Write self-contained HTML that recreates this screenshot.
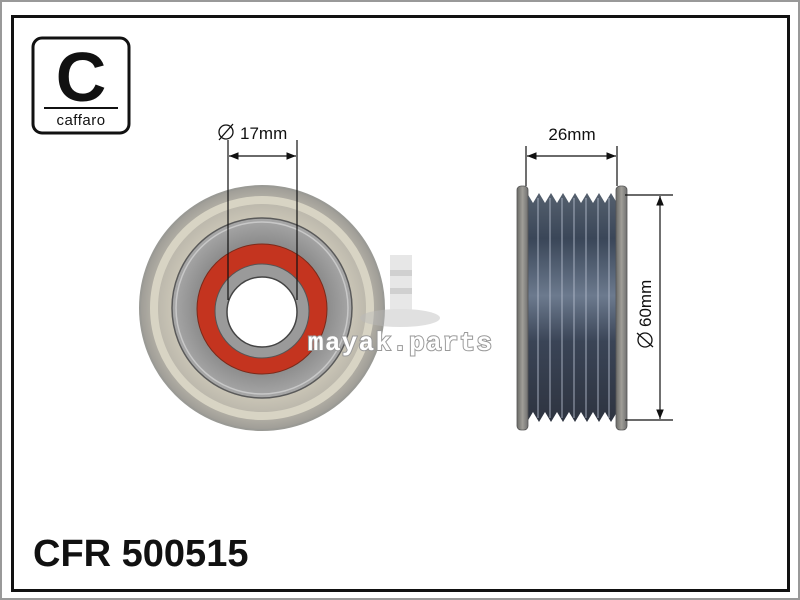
<!DOCTYPE html>
<html><head><meta charset="utf-8"><style>
html,body{margin:0;padding:0;background:#fff}
svg{display:block}
</style></head><body>
<svg width="800" height="600" viewBox="0 0 800 600" font-family="Liberation Sans, sans-serif">
<defs>
<radialGradient id="rim" cx="50%" cy="50%" r="50%">
<stop offset="70%" stop-color="#cdc8b8"/><stop offset="85%" stop-color="#bdb9ad"/><stop offset="100%" stop-color="#9e9c96"/>
</radialGradient>
<radialGradient id="disc" cx="50%" cy="50%" r="50%">
<stop offset="70%" stop-color="#8a8a8a"/><stop offset="100%" stop-color="#a8a8a8"/>
</radialGradient>
<linearGradient id="body" x1="0" y1="0" x2="0" y2="1">
<stop offset="0%" stop-color="#55606e"/><stop offset="20%" stop-color="#3a4658"/><stop offset="45%" stop-color="#6c7a8e"/><stop offset="65%" stop-color="#3a4456"/><stop offset="100%" stop-color="#2e3440"/>
</linearGradient>
<linearGradient id="fl" x1="0" y1="0" x2="1" y2="0">
<stop offset="0%" stop-color="#6a6a66"/><stop offset="50%" stop-color="#a09e98"/><stop offset="100%" stop-color="#707070"/>
</linearGradient>
<marker id="a" viewBox="0 0 10 10" refX="10" refY="5" markerWidth="8" markerHeight="8" orient="auto-start-reverse"><path d="M0,1 L10,5 L0,9 z" fill="#111"/></marker>
</defs>
<rect x="1" y="1" width="798" height="598" fill="none" stroke="#999" stroke-width="2"/>
<rect x="12.5" y="16.5" width="776" height="574" fill="none" stroke="#111" stroke-width="3"/>
<!-- logo -->
<rect x="33" y="38" width="96" height="95" rx="9" fill="none" stroke="#111" stroke-width="3"/>
<text x="81" y="101" font-size="70" font-weight="bold" text-anchor="middle" fill="#111">C</text>
<line x1="44" y1="108" x2="118" y2="108" stroke="#111" stroke-width="2"/>
<text x="81" y="125" font-size="15" text-anchor="middle" fill="#111" letter-spacing="0.5">caffaro</text>
<!-- front view -->
<circle cx="262" cy="308" r="122" fill="url(#rim)" stroke="#9a9a95" stroke-width="2"/>
<circle cx="262" cy="308" r="108" fill="none" stroke="#d8d4c4" stroke-width="8"/>
<circle cx="262" cy="308" r="90" fill="url(#disc)" stroke="#5a5a5a" stroke-width="1.5"/>
<circle cx="262" cy="308" r="86" fill="none" stroke="#c8c8c8" stroke-width="1.5"/>
<circle cx="262" cy="309" r="65" fill="#c4341f" stroke="#7a2a1a" stroke-width="1"/>
<circle cx="262" cy="311" r="47" fill="#9a9a9a" stroke="#555" stroke-width="1"/>
<circle cx="262" cy="312" r="35" fill="#fff" stroke="#444" stroke-width="1.5"/>
<!-- 17mm dimension -->
<line x1="228" y1="140" x2="228" y2="300" stroke="#111" stroke-width="1.2"/>
<line x1="297" y1="140" x2="297" y2="300" stroke="#111" stroke-width="1.2"/>
<line x1="229" y1="156" x2="296" y2="156" stroke="#111" stroke-width="1.2" marker-start="url(#a)" marker-end="url(#a)"/>
<circle cx="226" cy="132" r="7" fill="none" stroke="#111" stroke-width="1.3"/>
<line x1="219" y1="140" x2="233" y2="124" stroke="#111" stroke-width="1.3"/>
<text x="240" y="139" font-size="17" fill="#111">17mm</text>
<!-- watermark -->
<g opacity="0.45">
<rect x="390" y="255" width="22" height="55" fill="#ccc"/>
<rect x="390" y="270" width="22" height="6" fill="#999"/>
<rect x="390" y="288" width="22" height="6" fill="#999"/>
<ellipse cx="400" cy="318" rx="40" ry="9" fill="#bbb"/>
</g>
<text x="400" y="350" font-size="26" font-family="Liberation Mono, monospace" text-anchor="middle" fill="#fff" stroke="#999" stroke-width="2" paint-order="stroke" font-weight="bold" textLength="184">mayak.parts</text>
<!-- side view -->
<rect x="527" y="193" width="90" height="229" fill="url(#body)"/>
<g stroke="#b8c0d0" stroke-width="1.2" opacity="0.7">
<line x1="538" y1="198" x2="538" y2="418"/><line x1="550" y1="198" x2="550" y2="418"/><line x1="562" y1="198" x2="562" y2="418"/><line x1="574" y1="198" x2="574" y2="418"/><line x1="586" y1="198" x2="586" y2="418"/><line x1="598" y1="198" x2="598" y2="418"/><line x1="609" y1="198" x2="609" y2="418"/>
</g>
<path d="M527,193 l6,10 l6,-10 l6,10 l6,-10 l6,10 l6,-10 l6,10 l6,-10 l6,10 l6,-10 l6,10 l6,-10 l6,10 l6,-10 l6,10 V193z" fill="#fff"/>
<path d="M527,422 l6,-10 l6,10 l6,-10 l6,10 l6,-10 l6,10 l6,-10 l6,10 l6,-10 l6,10 l6,-10 l6,10 l6,-10 l6,10 l6,-10 V422z" fill="#fff"/>
<rect x="517" y="186" width="11" height="244" rx="4" fill="url(#fl)" stroke="#555" stroke-width="0.8"/>
<rect x="616" y="186" width="11" height="244" rx="4" fill="url(#fl)" stroke="#555" stroke-width="0.8"/>
<!-- 26mm -->
<line x1="526" y1="146" x2="526" y2="186" stroke="#111" stroke-width="1.2"/>
<line x1="617" y1="146" x2="617" y2="186" stroke="#111" stroke-width="1.2"/>
<line x1="527" y1="156" x2="616" y2="156" stroke="#111" stroke-width="1.2" marker-start="url(#a)" marker-end="url(#a)"/>
<text x="572" y="140" font-size="17" text-anchor="middle" fill="#111">26mm</text>
<!-- 60mm -->
<line x1="625" y1="195" x2="673" y2="195" stroke="#111" stroke-width="1.2"/>
<line x1="625" y1="420" x2="673" y2="420" stroke="#111" stroke-width="1.2"/>
<line x1="660" y1="196" x2="660" y2="419" stroke="#111" stroke-width="1.2" marker-start="url(#a)" marker-end="url(#a)"/>
<g transform="translate(651,308) rotate(-90)">
<circle cx="-32" cy="-6" r="7" fill="none" stroke="#111" stroke-width="1.3"/>
<line x1="-39" y1="2" x2="-25" y2="-14" stroke="#111" stroke-width="1.3"/>
<text x="-19" y="0" font-size="17" fill="#111">60mm</text>
</g>
<text x="33" y="566" font-size="38" font-weight="bold" fill="#111">CFR 500515</text>
</svg>
</body></html>
